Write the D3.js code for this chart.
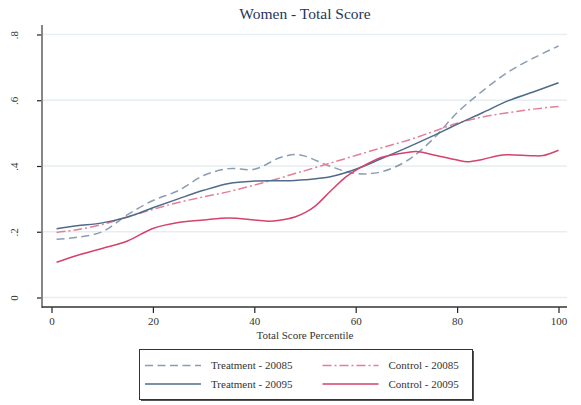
<!DOCTYPE html>
<html>
<head>
<meta charset="utf-8">
<script src="https://cdn.jsdelivr.net/npm/d3@7"></script>
<style>
  html, body { margin: 0; padding: 0; background: #ffffff; }
  svg { display: block; }
  text { font-family: "Liberation Serif", "DejaVu Serif", serif; }
</style>
</head>
<body>
<svg id="chart" width="581" height="405"></svg>
<script>
// Percentile grid (x) shared by the smoother series
const percentiles = [1, 5, 10, 15, 20, 25, 30, 35, 40, 45, 48, 50, 55, 60, 65, 70, 75, 80, 85, 90, 95, 100];

// Local-polynomial fits of the total score by percentile
const treatment20085 = [0.177, 0.183, 0.200, 0.252, 0.295, 0.325, 0.371, 0.392, 0.390, 0.425, 0.435, 0.430, 0.399, 0.377, 0.382, 0.415, 0.478, 0.562, 0.628, 0.685, 0.728, 0.765];
const treatment20095 = [0.209, 0.218, 0.227, 0.245, 0.273, 0.300, 0.326, 0.347, 0.354, 0.355, 0.356, 0.358, 0.367, 0.390, 0.422, 0.455, 0.490, 0.527, 0.562, 0.598, 0.625, 0.653];
const control20085   = [0.198, 0.206, 0.222, 0.245, 0.268, 0.289, 0.306, 0.322, 0.342, 0.363, 0.377, 0.386, 0.409, 0.432, 0.455, 0.477, 0.503, 0.530, 0.549, 0.562, 0.573, 0.581];

// Control 2009 wave uses a finer grid around its S-shaped rise
const percentilesFine = [1, 5, 10, 15, 20, 25, 30, 35, 40, 43, 45, 48, 50, 52, 55, 58, 60, 62, 65, 70, 72, 75, 80, 82, 85, 88, 90, 95, 97, 100];
const control20095    = [0.107, 0.128, 0.149, 0.172, 0.210, 0.228, 0.236, 0.242, 0.236, 0.232, 0.235, 0.245, 0.258, 0.278, 0.323, 0.366, 0.387, 0.404, 0.426, 0.441, 0.444, 0.435, 0.418, 0.413, 0.420, 0.431, 0.434, 0.431, 0.432, 0.448];

const yTicks = [0, 0.2, 0.4, 0.6, 0.8];
const yTickLabels = ["0", ".2", ".4", ".6", ".8"];
const xTicks = [0, 20, 40, 60, 80, 100];

const titleText = "Women - Total Score";
const xTitle = "Total Score Percentile";

const series = [
  { name: "Treatment - 20085", x: percentiles, y: treatment20085, color: "#8b9db3", dash: "8,4.5" },
  { name: "Control - 20085",   x: percentiles, y: control20085,   color: "#e57f98", dash: "9,3,2,3" },
  { name: "Treatment - 20095", x: percentiles, y: treatment20095, color: "#4f6b8a", dash: null },
  { name: "Control - 20095",   x: percentilesFine, y: control20095, color: "#d5426b", dash: null }
];

const svg = d3.select("#chart");

// Plot region edges
const plot = { left: 42, right: 567, top: 25, bottom: 307 };

const x = d3.scaleLinear().domain([0, 100]).range([51.5, 558.5]);
const y = d3.scaleLinear().domain([0, 0.8]).range([297.5, 34.5]);

// Title
svg.append("text")
  .attr("x", 305).attr("y", 19)
  .attr("text-anchor", "middle")
  .attr("font-size", 15.5)
  .attr("fill", "#27355a")
  .text(titleText);

// Horizontal gridlines
svg.append("g")
  .selectAll("line")
  .data(yTicks)
  .join("line")
  .attr("x1", plot.left + 1).attr("x2", plot.right)
  .attr("y1", d => y(d)).attr("y2", d => y(d))
  .attr("stroke", "#e6eef1")
  .attr("stroke-width", 1.4);

// Y axis
const yAxis = d3.axisLeft(y)
  .tickValues(yTicks)
  .tickFormat((d, i) => yTickLabels[i])
  .tickSize(5)
  .tickPadding(0);

const gy = svg.append("g")
  .attr("transform", `translate(${plot.left},0)`)
  .call(yAxis);
gy.select(".domain").remove();
gy.selectAll(".tick line").attr("stroke", "#222").attr("stroke-width", 1.2);
gy.selectAll(".tick text")
  .attr("font-size", 11)
  .attr("fill", "#333")
  .attr("text-anchor", "middle")
  .attr("transform", "translate(-28,0) rotate(-90)")
  .attr("x", 0).attr("dy", "0.35em");
svg.append("line")
  .attr("x1", plot.left).attr("x2", plot.left)
  .attr("y1", plot.top).attr("y2", plot.bottom + 1)
  .attr("stroke", "#7a7a7a").attr("stroke-width", 1.8);

// X axis
const xAxis = d3.axisBottom(x)
  .tickValues(xTicks)
  .tickFormat(d3.format("d"))
  .tickSize(6)
  .tickPadding(4);

const gx = svg.append("g")
  .attr("transform", `translate(0,${plot.bottom})`)
  .call(xAxis);
gx.select(".domain").remove();
gx.selectAll(".tick line").attr("stroke", "#222").attr("stroke-width", 1.2);
gx.selectAll(".tick text")
  .attr("font-size", 11)
  .attr("fill", "#333");
svg.append("line")
  .attr("x1", plot.left).attr("x2", plot.right)
  .attr("y1", plot.bottom).attr("y2", plot.bottom)
  .attr("stroke", "#333").attr("stroke-width", 1.4);

svg.append("text")
  .attr("x", 305).attr("y", 339)
  .attr("text-anchor", "middle")
  .attr("font-size", 11)
  .attr("fill", "#333")
  .text(xTitle);

// Series lines
const line = d3.line()
  .x(d => x(d[0]))
  .y(d => y(d[1]))
  .curve(d3.curveCatmullRom.alpha(0.5));

svg.append("g")
  .selectAll("path")
  .data(series)
  .join("path")
  .attr("d", s => line(s.x.map((v, i) => [v, s.y[i]])))
  .attr("fill", "none")
  .attr("stroke", s => s.color)
  .attr("stroke-width", 1.5)
  .attr("stroke-dasharray", s => s.dash);

// Legend
const legend = svg.append("g");
legend.append("rect")
  .attr("x", 141).attr("y", 351)
  .attr("width", 333).attr("height", 50)
  .attr("fill", "#555");
legend.append("rect")
  .attr("x", 139.5).attr("y", 349.5)
  .attr("width", 333).attr("height", 50)
  .attr("fill", "#fff")
  .attr("stroke", "#333")
  .attr("stroke-width", 1);

const legendOrder = [
  { s: series[0], col: 0, row: 0 },
  { s: series[1], col: 1, row: 0 },
  { s: series[2], col: 0, row: 1 },
  { s: series[3], col: 1, row: 1 }
];
const colX = [145, 322.5];
const rowY = [365.5, 384];

const items = legend.selectAll("g.item")
  .data(legendOrder)
  .join("g")
  .attr("class", "item")
  .attr("transform", d => `translate(${colX[d.col]},${rowY[d.row]})`);
items.append("line")
  .attr("x1", 0).attr("x2", 56)
  .attr("y1", 0).attr("y2", 0)
  .attr("stroke", d => d.s.color)
  .attr("stroke-width", 1.5)
  .attr("stroke-dasharray", d => d.s.dash);
items.append("text")
  .attr("x", 66).attr("y", 0)
  .attr("dy", "0.35em")
  .attr("font-size", 11)
  .attr("fill", "#333")
  .text(d => d.s.name);
</script>
</body>
</html>
